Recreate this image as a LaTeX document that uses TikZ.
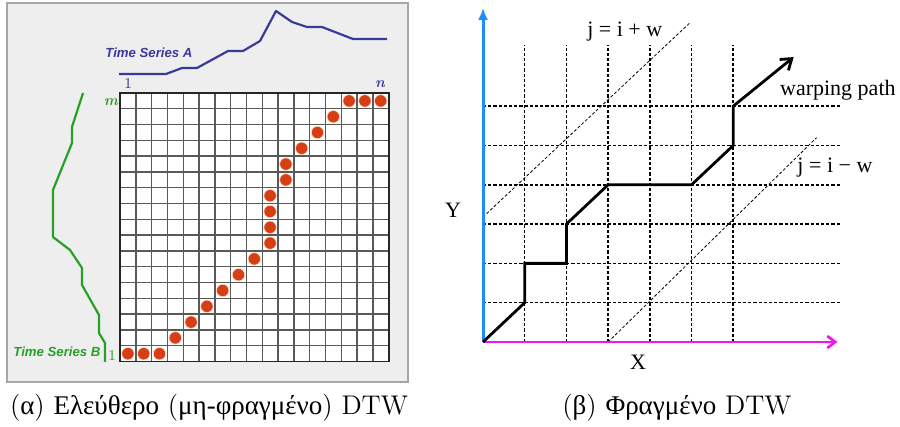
\documentclass[tikz,border=0pt]{standalone}
\usepackage{fontspec}
\newfontfamily\arialfont{Liberation Sans}
\newfontfamily\timesfont{Liberation Serif}
\newfontfamily\greekfont{Liberation Serif}
\newcommand{\gk}[1]{{\greekfont #1}}
\usetikzlibrary{positioning, arrows.meta}
\definecolor{seriesA}{RGB}{58,58,156}
\definecolor{seriesB}{RGB}{40,160,40}
\definecolor{dotred}{RGB}{214,62,22}
\definecolor{axisblue}{RGB}{30,140,255}
\definecolor{axismag}{RGB}{240,20,240}
\definecolor{panelgray}{RGB}{238,238,238}

\begin{document}
\begin{tikzpicture}[x=0.5pt, y=-0.5pt,
        panel/.style = {draw=black!35, fill=panelgray, line width=0.8pt},
        series/.style = {line width=1.1pt, line join=round},
        tslabel/.style = {font=\arialfont\bfseries\itshape\fontsize{6.6}{7}\selectfont, inner sep=0pt},
        idx/.style = {font=\fontsize{7.5}{8}\selectfont, inner sep=0.5pt},
        idxit/.style = {idx, font=\bfseries\itshape\fontsize{7.5}{8}\selectfont},
        cellline/.style = {black!65, line width=0.7pt},
        celldot/.style = {circle, fill=dotred, draw=orange!25, line width=0.3pt, minimum size=6.2pt, inner sep=0pt},
        dashgrid/.style = {dash pattern=on 1.6pt off 1pt, line width=0.75pt},
        band/.style = {dash pattern=on 1.5pt off 1pt, line width=0.4pt},
        warp/.style = {line width=1.4pt, line join=miter},
        rlabel/.style = {font=\timesfont\fontsize{11}{12}\selectfont, inner sep=1pt},
        caption/.style = {font=\fontsize{13.5}{15}\selectfont, inner sep=0pt},
    ]
    \useasboundingbox (0,0) rectangle (900,427);

    % (a) free DTW
    \draw[panel] (7,3) rectangle (408,382);
    \draw[series, seriesA] (119,74) -- (166,74) -- (182,68) -- (197,68) -- (228,51) -- (243,51)
        -- (260,41) -- (276,11) -- (292,22) -- (307,27) -- (322,27) -- (353,39) -- (387,39);
    \draw[series, seriesB] (83,93) -- (72,127) -- (72,143) -- (53,190) -- (53,237) -- (70,250)
        -- (82,268) -- (82,285) -- (99,315) -- (99,333) -- (105,343) -- (105,362);
    \node[tslabel, seriesA] (tsa) at (149,53) {Time Series A};
    \node[tslabel, seriesB] (tsb) at (57,352) {Time Series B};
    \node[idx, seriesA] (a1) at (128,84) {1};
    \node[idxit, seriesA] (an) at (380,84) {n};
    \node[idxit, seriesB] (bm) at (111,102) {m};
    \node[idx, seriesB] (b1) at (112,356) {1};

    \begin{scope}[shift={(120,361.6)}, x=7.9pt, y=7.9pt]
        \fill[white] (0,0) rectangle (17,17);
        \foreach \k in {1,...,16} {
            \draw[cellline] (\k,0) -- (\k,17);
            \draw[cellline] (0,\k) -- (17,\k);
        }
        \draw[black!85, line width=0.9pt] (0,0) rectangle (17,17);
        \foreach \c/\r in {1/1,2/1,3/1,4/2,5/3,6/4,7/5,8/6,9/7,10/8,10/9,10/10,10/11,
                11/12,11/13,12/14,13/15,14/16,15/17,16/17,17/17}
            \node[celldot] (d\c-\r) at (\c-0.5,\r-0.5) {};
    \end{scope}

    % (b) constrained DTW
    \begin{scope}[shift={(483,342)}, x=20.85pt, y=19.65pt]
        \foreach \i in {1,...,6}
            \draw[dashgrid] (\i,0) -- (\i,7.55);
        \foreach \j in {1,...,6}
            \draw[dashgrid] (0,\j) -- (8.55,\j);

        \coordinate (ua) at (0,3.18);
        \coordinate (ub) at (4.96,8.12);
        \coordinate (la) at (3,0);
        \coordinate (lb) at (8,5.2);
        \draw[band] (ua) -- (ub);
        \draw[band] (la) -- (lb);

        \coordinate (o) at (0,0);
        \coordinate (xend) at (8.5,0);
        \coordinate (yend) at (0,8.5);
        \draw[axismag, line width=1.3pt, -{Straight Barb[length=4pt, width=6pt]}] (o) -- (xend);
        \draw[axisblue, line width=1.5pt, -{Latex[length=6pt, width=5pt]}] (o) -- (yend);

        \foreach \n/\i/\j in {0/0/0,1/1/1,2/1/2,3/2/2,4/2/3,5/3/4,6/5/4,7/6/5,8/6/6,9/7.45/7.25}
            \coordinate (w\n) at (\i,\j);
        \draw[warp, -{Straight Barb[length=5pt, width=7pt]}] (w0) \foreach \n in {1,...,9} {-- (w\n)};

        \node[rlabel] (lup) at (3.4,7.89) {j = i + w};
        \node[rlabel] (llo) at (8.44,4.45) {j = i − w};
        \node[rlabel] (wp) at (8.51,6.41) {warping path};
        \node[rlabel] (ylab) at (-0.72,3.36) {Y};
        \node[rlabel] (xlab) at (3.72,-0.51) {X};
    \end{scope}

    % captions
    \node[caption] (capa) at (209,408) {(\gk{α}) \gk{Ελεύθερο} (\gk{μη-φραγμένο}) DTW};
    \node[caption] (capb) at (677,408) {(\gk{β}) \gk{Φραγμένο} DTW};
\end{tikzpicture}
\end{document}
